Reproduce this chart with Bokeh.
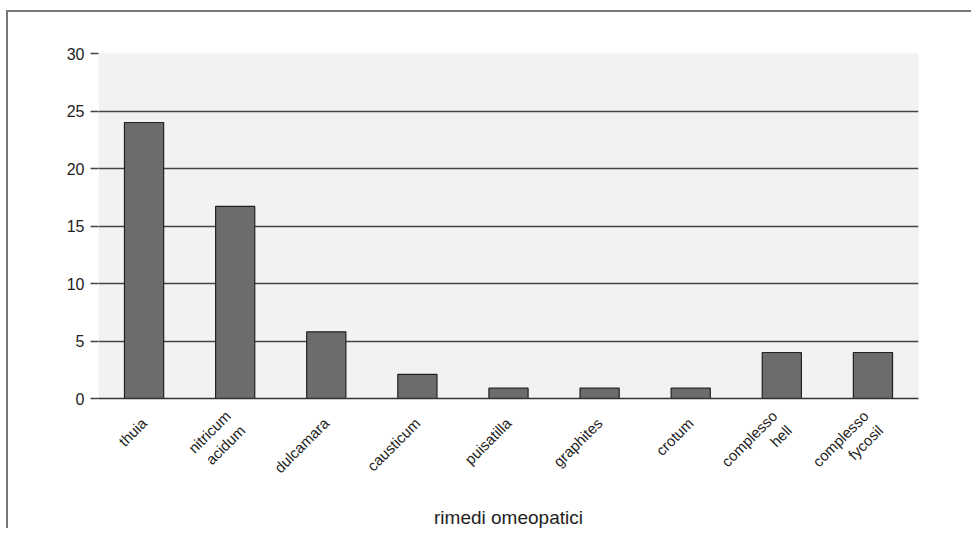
import math
from bokeh.plotting import figure
from bokeh.models import ColumnDataSource, FactorRange
from bokeh.embed import file_html
from bokeh.resources import INLINE

categories = ["thuia", "nitricum\nacidum", "dulcamara", "causticum", "puisatilla",
              "graphites", "crotum", "complesso\nhell", "complesso\nfycosil"]
values = [24.0, 16.7, 5.8, 2.1, 0.9, 0.9, 0.9, 4.0, 4.0]
y_ticks = [0, 5, 10, 15, 20, 25, 30]
x_title = "rimedi omeopatici"

FONT = "Liberation Sans"

src = ColumnDataSource(dict(cat=categories, val=values))

p = figure(width=965, height=518, output_backend="svg", toolbar_location=None,
           x_range=FactorRange(*categories), y_range=(0, 30),
           min_border_left=90, min_border_right=55, min_border_top=41, min_border_bottom=125,
           background_fill_color="#f2f2f2", border_fill_color="white",
           outline_line_color=None,
           margin=(10, 0, 0, 6),
           styles={"border-top": "2px solid #777777", "border-left": "2px solid #777777"})
p.x_range.range_padding = 0

p.vbar(x="cat", top="val", width=0.43, source=src,
       fill_color="#6c6c6c", line_color="#222222", line_width=1.2)

# grid
p.xgrid.grid_line_color = None
p.ygrid.grid_line_color = "#444444"
p.ygrid.grid_line_width = 1.5
p.ygrid.ticker = y_ticks

# y axis
p.yaxis.ticker = y_ticks
p.yaxis.axis_line_color = None
p.yaxis.major_tick_in = 0
p.yaxis.major_tick_out = 8
p.yaxis.major_tick_line_color = "#444444"
p.yaxis.major_tick_line_width = 1.5
p.yaxis.minor_tick_line_color = None
p.yaxis.major_label_text_font = FONT
p.yaxis.major_label_text_font_size = "16px"
p.yaxis.major_label_text_color = "#222222"
p.yaxis.major_label_standoff = 6

# x axis
p.xaxis.axis_line_color = "#333333"
p.xaxis.axis_line_width = 1.5
p.xaxis.major_tick_line_color = None
p.xaxis.minor_tick_line_color = None
p.xaxis.major_label_orientation = math.pi / 4
p.xaxis.major_label_text_font = FONT
p.xaxis.major_label_text_font_size = "15px"
p.xaxis.major_label_text_color = "#222222"
p.xaxis.major_label_standoff = 16
p.xaxis.axis_label = x_title
p.xaxis.axis_label_text_font = FONT
p.xaxis.axis_label_text_font_style = "normal"
p.xaxis.axis_label_text_font_size = "19px"
p.xaxis.axis_label_text_color = "#222222"
p.xaxis.axis_label_standoff = 6

open("out.html", "w").write(file_html(p, INLINE))
